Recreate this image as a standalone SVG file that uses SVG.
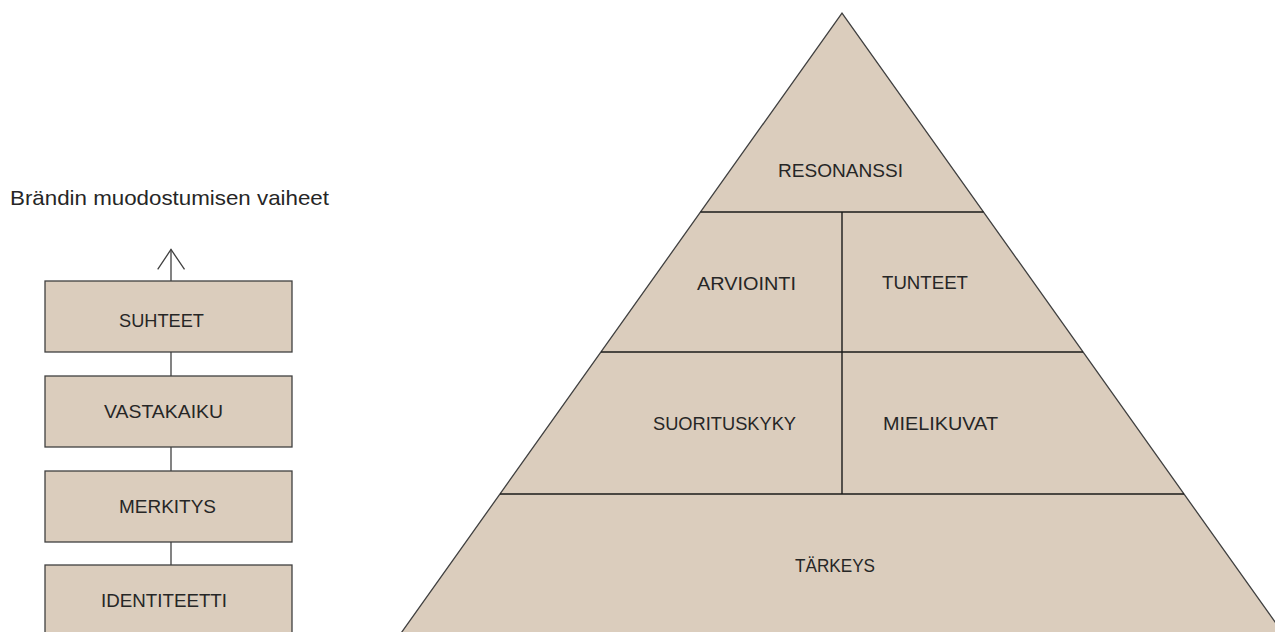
<svg xmlns="http://www.w3.org/2000/svg" width="1275" height="632" viewBox="0 0 1275 632">
<style>
.fill{fill:#dbcdbd;stroke:none}
.box{fill:#dbcdbd;stroke:#404040;stroke-width:1.3}
.lbl{font-family:"Liberation Sans",Arial,sans-serif;font-size:19px;fill:#262626}
.ttl{font-family:"Liberation Sans",Arial,sans-serif;font-size:21px;fill:#262626}
.edge{fill:none;stroke:#404040;stroke-width:1.3}
.div{fill:none;stroke:#1a1a1a;stroke-width:1.4}
.conn{fill:none;stroke:#404040;stroke-width:1.3}
</style>
<rect width="1275" height="632" fill="#ffffff"/>
<text id="title" class="ttl" x="10" y="205" textLength="319" lengthAdjust="spacingAndGlyphs">Brändin muodostumisen vaiheet</text>

<g id="connectors">
  <line class="conn" x1="171" y1="281" x2="171" y2="249.5"/>
  <polyline class="conn" points="157.7,269.3 171,249.5 184.5,269.3"/>
  <line class="conn" x1="171" y1="352" x2="171" y2="376"/>
  <line class="conn" x1="171" y1="447" x2="171" y2="471"/>
  <line class="conn" x1="171" y1="542" x2="171" y2="565"/>
</g>

<g id="suhteet">
  <rect class="box" x="45" y="281" width="247" height="71"/>
  <text class="lbl" x="119" y="327" textLength="85" lengthAdjust="spacingAndGlyphs">SUHTEET</text>
</g>
<g id="vastakaiku">
  <rect class="box" x="45" y="376" width="247" height="71"/>
  <text class="lbl" x="104" y="418" textLength="119" lengthAdjust="spacingAndGlyphs">VASTAKAIKU</text>
</g>
<g id="merkitys">
  <rect class="box" x="45" y="471" width="247" height="71"/>
  <text class="lbl" x="119" y="513" textLength="97" lengthAdjust="spacingAndGlyphs">MERKITYS</text>
</g>
<g id="identiteetti">
  <rect class="box" x="45" y="565" width="247" height="71"/>
  <text class="lbl" x="101" y="607" textLength="126" lengthAdjust="spacingAndGlyphs">IDENTITEETTI</text>
</g>

<g id="resonanssi">
  <polygon class="fill" points="842,13 983.5,212 700.5,212"/>
  <text class="lbl" x="778" y="177" textLength="125" lengthAdjust="spacingAndGlyphs">RESONANSSI</text>
</g>
<g id="arviointi">
  <polygon class="fill" points="700.5,212 842,212 842,352 601,352"/>
  <text class="lbl" x="697" y="290" textLength="99" lengthAdjust="spacingAndGlyphs">ARVIOINTI</text>
</g>
<g id="tunteet">
  <polygon class="fill" points="842,212 983.5,212 1083,352 842,352"/>
  <text class="lbl" x="882" y="289" textLength="86" lengthAdjust="spacingAndGlyphs">TUNTEET</text>
</g>
<g id="suorituskyky">
  <polygon class="fill" points="601,352 842,352 842,494 500,494"/>
  <text class="lbl" x="653" y="430" textLength="143" lengthAdjust="spacingAndGlyphs">SUORITUSKYKY</text>
</g>
<g id="mielikuvat">
  <polygon class="fill" points="842,352 1083,352 1184,494 842,494"/>
  <text class="lbl" x="883" y="430" textLength="115" lengthAdjust="spacingAndGlyphs">MIELIKUVAT</text>
</g>
<g id="tarkeys">
  <polygon class="fill" points="500,494 1184,494 1291.4,645 392.6,645"/>
  <text class="lbl" x="795" y="572" textLength="80" lengthAdjust="spacingAndGlyphs">TÄRKEYS</text>
</g>

<g id="pyramid-lines">
  <polyline class="edge" points="392.6,645 842,13 1291.4,645"/>
  <line class="div" x1="700.5" y1="212" x2="983.5" y2="212"/>
  <line class="div" x1="601" y1="352" x2="1083" y2="352"/>
  <line class="div" x1="500" y1="494" x2="1184" y2="494"/>
  <line class="div" x1="842" y1="212" x2="842" y2="494"/>
</g>
</svg>
